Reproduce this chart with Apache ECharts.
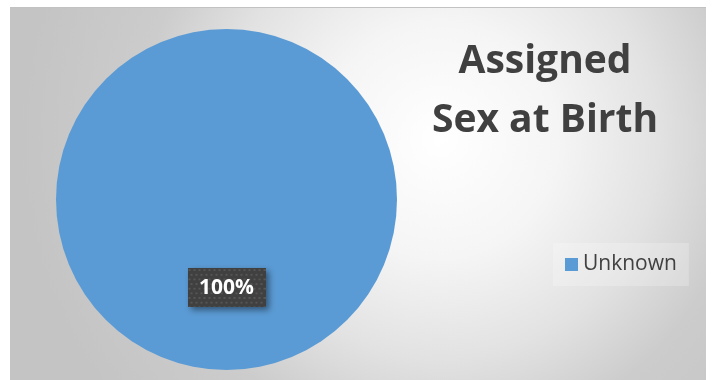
<!DOCTYPE html>
<html>
<head>
<meta charset="utf-8">
<script src="https://cdn.jsdelivr.net/npm/echarts@6/dist/echarts.min.js"></script>
<style>
  html, body { margin: 0; padding: 0; background: #ffffff; }
  #chart { width: 713px; height: 380px; }
</style>
</head>
<body>
<div id="chart"></div>
<script>
// ---- data ----
var titleText = 'Assigned\nSex at Birth';
var categories = ['Unknown'];
var values = [100];
var sliceColors = ['#5B9BD5'];

// dotted pattern for the data label box
function makePattern(w, h) {
  var c = document.createElement('canvas');
  c.width = w; c.height = h;
  var ctx = c.getContext('2d');
  ctx.fillStyle = '#404040';
  ctx.fillRect(0, 0, w, h);
  ctx.fillStyle = '#565656';
  for (var y = 1; y < h; y += 5) {
    for (var x = ((y - 1) / 5 % 2 ? 3 : 1); x < w; x += 5) {
      ctx.fillRect(x, y, 2, 2);
    }
  }
  return c;
}
var pattern = makePattern(78, 42);

var chart = echarts.init(document.getElementById('chart'), null, { renderer: 'canvas' });

var pieData = categories.map(function (name, i) {
  return { name: name, value: values[i], itemStyle: { color: sliceColors[i] } };
});

var option = {
  animation: false,
  backgroundColor: '#ffffff',
  graphic: [
    {
      type: 'rect',
      z: -10,
      silent: true,
      shape: { x: 10, y: 7, width: 696, height: 373 },
      style: {
        fill: {
          type: 'radial', x: 440, y: 140, r: 420, global: true,
          colorStops: [
            { offset: 0, color: '#ffffff' },
            { offset: 0.28, color: '#f5f5f5' },
            { offset: 0.52, color: '#e2e2e2' },
            { offset: 0.72, color: '#cccccc' },
            { offset: 1, color: '#c4c4c4' }
          ]
        }
      }
    },
    {
      type: 'line',
      z: -9,
      silent: true,
      shape: { x1: 10, y1: 7.5, x2: 706, y2: 7.5 },
      style: { stroke: '#c2c2c2', lineWidth: 1 }
    }
  ],
  title: {
    text: titleText,
    left: 540,
    top: 27,
    textAlign: 'center',
    textStyle: {
      fontFamily: 'Open Sans',
      fontWeight: 'bold',
      fontSize: 39,
      lineHeight: 59,
      color: '#404040'
    }
  },
  legend: {
    data: categories,
    orient: 'vertical',
    left: 553,
    top: 243,
    padding: [11, 12, 11, 12],
    backgroundColor: 'rgba(255,255,255,0.22)',
    icon: 'rect',
    itemWidth: 13,
    itemHeight: 13,
    itemGap: 6,
    itemTextGap: 6,
    selectedMode: false,
    textStyle: {
      fontFamily: 'Open Sans',
      fontSize: 21,
      color: '#404040'
    }
  },
  series: [
    {
      type: 'pie',
      center: [226.5, 199.5],
      radius: 170.5,
      startAngle: 90,
      silent: true,
      itemStyle: { borderWidth: 0 },
      label: {
        show: true,
        position: 'inside',
        formatter: '{d}%',
        fontFamily: 'Open Sans',
        fontWeight: 'bold',
        fontSize: 21,
        color: '#ffffff',
        backgroundColor: { image: pattern },
        width: 58,
        align: 'center',
        padding: [9, 10, 9, 10],
        shadowBlur: 6,
        shadowOffsetX: 3,
        shadowOffsetY: 3,
        shadowColor: 'rgba(0,0,0,0.45)'
      },
      labelLine: { show: false },
      data: pieData
    }
  ]
};
chart.setOption(option);
</script>
</body>
</html>
